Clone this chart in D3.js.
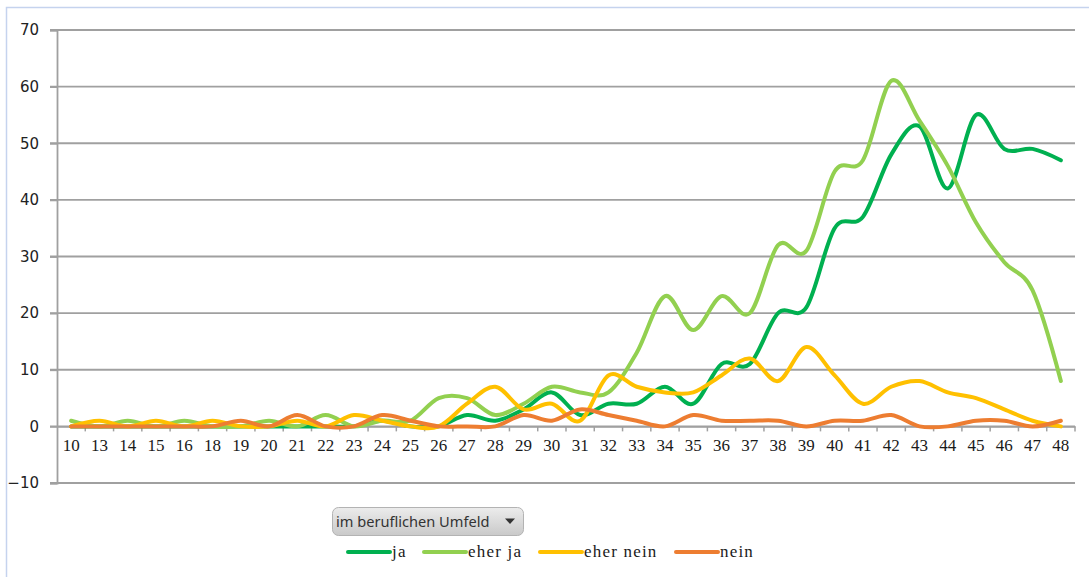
<!DOCTYPE html>
<html>
<head>
<meta charset="utf-8">
<script src="https://cdn.jsdelivr.net/npm/d3@7/dist/d3.min.js"></script>
<style>
  html, body { margin: 0; padding: 0; background: #ffffff; }
  svg { display: block; }
</style>
</head>
<body>
<svg id="chart" width="1089" height="577"></svg>
<script>
// Categories (age groups) along the x axis
const categories = ["10","13","14","15","16","18","19","20","21","22","23","24","25","26","27","28","29","30","31","32","33","34","35","36","37","38","39","40","41","42","43","44","45","46","47","48"];

// Series values
const ja       = [0,0,0,0,0,0,0,0,0,0,0,1,0,0,2,1,3,6,2,4,4,7,4,11,11,20,21,35,37,48,53,42,55,49,49,47];
const eherJa   = [1,0,1,0,1,0,0,1,0,2,0,1,1,5,5,2,4,7,6,6,13,23,17,23,20,32,31,45,47,61,54,46,36,29,24,8];
const eherNein = [0,1,0,1,0,1,0,0,1,0,2,1,0,0,4,7,3,4,1,9,7,6,6,9,12,8,14,9,4,7,8,6,5,3,1,0];
const nein     = [0,0,0,0,0,0,1,0,2,0,0,2,1,0,0,0,2,1,3,2,1,0,2,1,1,1,0,1,1,2,0,0,1,1,0,1];

const seriesNames  = ["ja", "eher ja", "eher nein", "nein"];
const seriesColors = ["#00b050", "#92d050", "#ffc000", "#ed7d31"];
const yTicks = [-10, 0, 10, 20, 30, 40, 50, 60, 70];
const filterLabel = "im beruflichen Umfeld";

const seriesData = [ja, eherJa, eherNein, nein];

const svg = d3.select("#chart");

// outer chart frame
svg.append("rect")
  .attr("x", 6.5).attr("y", 7.5)
  .attr("width", 1200).attr("height", 700)
  .attr("fill", "none")
  .attr("stroke", "#c5d3ee")
  .attr("stroke-width", 1.5);

const plot = { left: 57, right: 1075, top: 30, bottom: 483 };

const x = d3.scaleBand().domain(categories).range([plot.left, plot.right]);
const xc = c => x(c) + x.bandwidth() / 2;
const y = d3.scaleLinear().domain([-10, 70]).range([plot.bottom, plot.top]);

const gridColor = "#a0a0a0";

// horizontal gridlines
svg.append("g")
  .selectAll("line")
  .data(yTicks)
  .join("line")
  .attr("x1", plot.left - 7).attr("x2", plot.right)
  .attr("y1", d => y(d)).attr("y2", d => y(d))
  .attr("stroke", gridColor)
  .attr("stroke-width", 1.8);

// y axis
const yAxis = svg.append("g")
  .attr("transform", `translate(${plot.left},0)`)
  .call(d3.axisLeft(y).tickValues(yTicks).tickSize(7).tickPadding(11).tickFormat(d3.format("d")));
yAxis.select(".domain").attr("stroke", gridColor).attr("stroke-width", 1.8);
yAxis.selectAll(".tick line").attr("stroke", gridColor).attr("stroke-width", 1.8);
yAxis.selectAll("text")
  .attr("font-family", "'DejaVu Sans', sans-serif")
  .attr("font-size", 15)
  .attr("fill", "#222");

// x axis along the zero line, ticks on category boundaries
const xAxis = svg.append("g")
  .attr("transform", `translate(0,${y(0)})`)
  .call(d3.axisBottom(x).tickSize(0).tickPadding(13));
xAxis.select(".domain").attr("stroke", gridColor).attr("stroke-width", 1.8);
xAxis.selectAll("text")
  .attr("font-family", "'Liberation Serif', 'Times New Roman', serif")
  .attr("font-size", 17)
  .attr("fill", "#1a1a1a");

const boundaries = categories.map(c => x(c)).slice(1).concat([plot.right]);
svg.append("g")
  .selectAll("line")
  .data(boundaries)
  .join("line")
  .attr("x1", d => d).attr("x2", d => d)
  .attr("y1", y(0)).attr("y2", y(0) + 5)
  .attr("stroke", gridColor)
  .attr("stroke-width", 1.5);

// smoothed series lines
const line = d3.line()
  .x((d, i) => xc(categories[i]))
  .y(d => y(d))
  .curve(d3.curveCardinal.tension(0));

svg.append("g")
  .selectAll("path")
  .data(seriesData)
  .join("path")
  .attr("d", d => line(d))
  .attr("fill", "none")
  .attr("stroke", (d, i) => seriesColors[i])
  .attr("stroke-width", 4)
  .attr("stroke-linecap", "round")
  .attr("stroke-linejoin", "round");

// filter dropdown button
const defs = svg.append("defs");
const grad = defs.append("linearGradient")
  .attr("id", "btnGrad").attr("x1", 0).attr("y1", 0).attr("x2", 0).attr("y2", 1);
grad.append("stop").attr("offset", "0%").attr("stop-color", "#ececec");
grad.append("stop").attr("offset", "100%").attr("stop-color", "#c9c9c9");

const btn = svg.append("g").attr("transform", "translate(332,507)");
btn.append("rect")
  .attr("x", 0.5).attr("y", 0.5)
  .attr("width", 191).attr("height", 28)
  .attr("rx", 6)
  .attr("fill", "url(#btnGrad)")
  .attr("stroke", "#b3b3b3");
btn.append("text")
  .attr("x", 4).attr("y", 20)
  .attr("font-family", "'Noto Sans', 'Open Sans', sans-serif")
  .attr("font-size", 14.6)
  .attr("fill", "#333")
  .text(filterLabel);
btn.append("path")
  .attr("d", "M173,11.5 L183,11.5 L178,17 Z")
  .attr("fill", "#333");

// legend
const legendX = [348, 424, 540, 676];
const legend = svg.append("g")
  .selectAll("g")
  .data(seriesNames)
  .join("g")
  .attr("transform", (d, i) => `translate(${legendX[i]},552)`);
legend.append("line")
  .attr("x1", 0).attr("x2", 42)
  .attr("y1", 0).attr("y2", 0)
  .attr("stroke", (d, i) => seriesColors[i])
  .attr("stroke-width", 4)
  .attr("stroke-linecap", "round");
legend.append("text")
  .attr("x", 44).attr("y", 5)
  .attr("font-family", "'Liberation Serif', 'Times New Roman', serif")
  .attr("font-size", 17)
  .attr("letter-spacing", 1.2)
  .attr("fill", "#1a1a1a")
  .text(d => d);
</script>
</body>
</html>
